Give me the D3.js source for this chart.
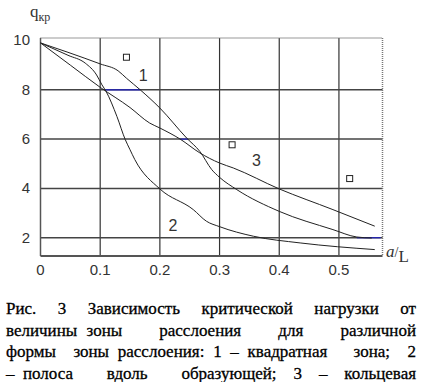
<!DOCTYPE html>
<html>
<head>
<meta charset="utf-8">
<script src="https://cdn.jsdelivr.net/npm/d3@7"></script>
<style>
  body { margin: 0; background: #fff; }
  svg { display: block; }
  .serif { font-family: "Liberation Serif", "Times New Roman", Times, serif; }
  .sans { font-family: "Liberation Sans", Arial, sans-serif; }
</style>
</head>
<body>
<div id="chart-area"></div>
<script>
// data
var curve1 = [[0,9.9],[0.046,9.52],[0.1,9.05],[0.13,8.77],[0.144,8.47],[0.167,8.0],[0.2,7.26],[0.245,6.04],[0.267,5.5],[0.287,4.76],[0.3,4.45],[0.329,3.95],[0.4,3.07],[0.49,2.33],[0.53,2.03],[0.555,1.99]];
var curve2 = [[0,9.9],[0.046,9.4],[0.075,9.08],[0.094,8.6],[0.103,8.2],[0.11,7.93],[0.128,6.92],[0.142,5.98],[0.15,5.57],[0.158,5.17],[0.2,3.98],[0.256,3.14],[0.278,2.67],[0.3,2.45],[0.357,2.06],[0.435,1.79],[0.56,1.52]];
var curve3 = [[0,9.9],[0.05,9.0],[0.1,8.1],[0.15,7.28],[0.183,6.65],[0.2,6.45],[0.234,6.0],[0.267,5.44],[0.3,5.03],[0.323,4.83],[0.4,3.98],[0.49,3.14],[0.56,2.47]];
var markers = [[0.144,9.32],[0.321,5.77],[0.518,4.4]];
var curveLabels = [["1",0.172,8.36],["2",0.222,2.27],["3",0.362,4.91]];
var blueBits = [[0.108,0.167,8],[0.234,0.247,6],[0.53,0.57,2]];
var xTicks = [0,0.1,0.2,0.3,0.4,0.5];
var yTicks = [2,4,6,8,10];
var caption = [
  "Рис.  3  Зависимость  критической  нагрузки  от",
  "величины зоны    расслоения    для    различной",
  "формы  зоны расслоения: 1 – квадратная   зона;  2",
  "– полоса    вдоль    образующей;  3  –  кольцевая"
];

var svg = d3.select("#chart-area").append("svg")
  .attr("width", 422)
  .attr("height", 382);

var x = d3.scaleLinear().domain([0, 0.573]).range([40.5, 382.5]);
var y = d3.scaleLinear().domain([1.26, 10.1]).range([256, 38]);

var ink = "#333";

// grid
xTicks.filter(d => d > 0).forEach(d => {
  svg.append("line")
    .attr("x1", x(d)).attr("x2", x(d))
    .attr("y1", y(10.1)).attr("y2", y(1.26))
    .attr("stroke", ink).attr("stroke-width", 1.2);
});
yTicks.filter(d => d < 10).forEach(d => {
  svg.append("line")
    .attr("x1", x(0)).attr("x2", x(0.573))
    .attr("y1", y(d)).attr("y2", y(d))
    .attr("stroke", "#444").attr("stroke-width", 1.5);
});

// frame: dotted top/right, solid left/bottom
svg.append("line")
  .attr("x1", x(0)).attr("x2", x(0.573)).attr("y1", y(10.1)).attr("y2", y(10.1))
  .attr("stroke", "#777").attr("stroke-width", 1.5).attr("stroke-dasharray", "1,1");
svg.append("line")
  .attr("x1", x(0.573)).attr("x2", x(0.573)).attr("y1", y(10.1)).attr("y2", y(1.26))
  .attr("stroke", "#777").attr("stroke-width", 1.5).attr("stroke-dasharray", "1,1");
svg.append("line")
  .attr("x1", x(0)).attr("x2", x(0)).attr("y1", y(10.1)).attr("y2", y(1.26))
  .attr("stroke", "#555").attr("stroke-width", 1.5);
svg.append("line")
  .attr("x1", x(0)).attr("x2", x(0.573)).attr("y1", y(1.26)).attr("y2", y(1.26))
  .attr("stroke", "#555").attr("stroke-width", 2);

// blue fragments on grid lines
blueBits.forEach(b => {
  svg.append("line")
    .attr("x1", x(b[0])).attr("x2", x(b[1]))
    .attr("y1", y(b[2])).attr("y2", y(b[2]))
    .attr("stroke", "#2020c0").attr("stroke-width", 1.2);
});

// curves
var line = d3.line()
  .x(d => x(d[0]))
  .y(d => y(d[1]))
  .curve(d3.curveMonotoneX);

[curve1, curve2, curve3].forEach(c => {
  svg.append("path")
    .attr("d", line(c))
    .attr("fill", "none")
    .attr("stroke", "#222")
    .attr("stroke-width", 1);
});

// square markers
svg.selectAll(".mk").data(markers).enter().append("rect")
  .attr("x", d => x(d[0]) - 3)
  .attr("y", d => y(d[1]) - 3)
  .attr("width", 6).attr("height", 6)
  .attr("fill", "none").attr("stroke", "#222").attr("stroke-width", 1);

// curve numbers
svg.selectAll(".cl").data(curveLabels).enter().append("text")
  .attr("class", "sans")
  .attr("x", d => x(d[1]))
  .attr("y", d => y(d[2]))
  .attr("text-anchor", "middle")
  .attr("font-size", 16)
  .attr("fill", ink)
  .text(d => d[0]);

// tick labels
svg.selectAll(".xt").data(xTicks).enter().append("text")
  .attr("class", "sans")
  .attr("x", d => x(d))
  .attr("y", 275)
  .attr("text-anchor", "middle")
  .attr("font-size", 15)
  .attr("fill", ink)
  .text(d => d);

svg.selectAll(".yt").data(yTicks).enter().append("text")
  .attr("class", "sans")
  .attr("x", 30)
  .attr("y", d => y(d) + 5)
  .attr("text-anchor", "end")
  .attr("font-size", 15)
  .attr("fill", ink)
  .text(d => d);

// axis titles
var qt = svg.append("text")
  .attr("class", "serif")
  .attr("x", 30).attr("y", 17)
  .attr("font-size", 17)
  .attr("fill", ink);
qt.append("tspan").text("q");
qt.append("tspan").attr("dy", 4).attr("font-size", 12).text("кр");

var at = svg.append("text")
  .attr("class", "serif")
  .attr("x", 386).attr("y", 257)
  .attr("font-size", 17)
  .attr("fill", ink);
at.append("tspan").attr("font-style", "italic").text("a");
at.append("tspan").attr("font-size", 14).text("/");
at.append("tspan").attr("dy", 5).text("L");

// caption, justified line by line
var left = 6, right = 416;
caption.forEach((txt, i) => {
  var parts = txt.split(/( +)/);
  var words = parts.filter((p, k) => k % 2 === 0);
  var gaps = parts.filter((p, k) => k % 2 === 1).map(g => g.length);
  var g = svg.append("g");
  var nodes = words.map(w => g.append("text")
    .attr("class", "serif")
    .attr("y", 314 + i * 21.5)
    .attr("font-size", 17)
    .attr("fill", "#000")
    .attr("stroke", "#000")
    .attr("stroke-width", 0.3)
    .text(w));
  var widths = nodes.map(n => n.node().getComputedTextLength());
  var free = (right - left) - d3.sum(widths);
  var totalGap = d3.sum(gaps);
  var cx = left;
  nodes.forEach((n, k) => {
    n.attr("x", cx);
    cx += widths[k] + (k < gaps.length ? free * gaps[k] / totalGap : 0);
  });
});
</script>
</body>
</html>
